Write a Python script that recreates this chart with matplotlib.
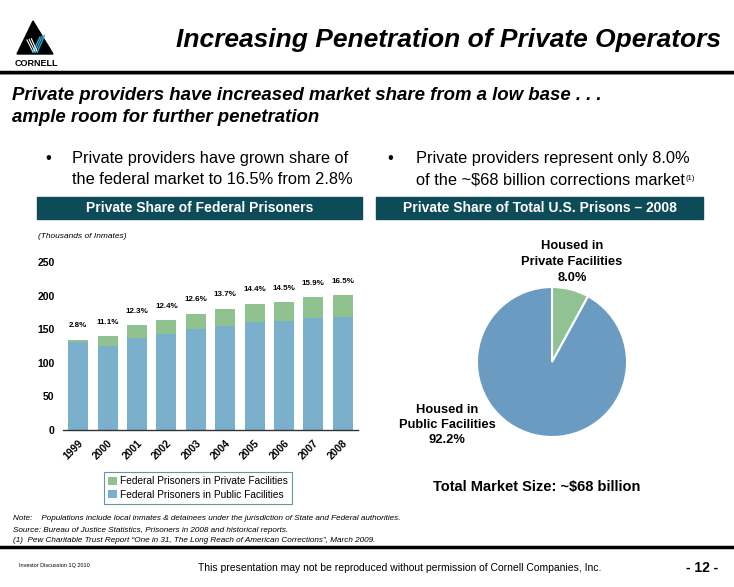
import matplotlib.pyplot as plt
from matplotlib.patches import Rectangle, Polygon
from matplotlib.lines import Line2D

# bar chart data (thousands of inmates)
years = ["1999", "2000", "2001", "2002", "2003", "2004", "2005", "2006", "2007", "2008"]
public_fac = [130.5, 124.5, 137.0, 143.5, 151.0, 155.5, 160.5, 162.5, 166.0, 167.5]
private_fac = [3.8, 15.2, 19.0, 20.0, 21.6, 24.8, 27.0, 27.8, 31.5, 33.0]
share_labels = ["2.8%", "11.1%", "12.3%", "12.4%", "12.6%", "13.7%", "14.4%", "14.5%", "15.9%", "16.5%"]

# pie data (% of total market)
pie_labels = ["Housed in\nPrivate Facilities\n8.0%", "Housed in\nPublic Facilities\n92.2%"]
pie_values = [8.0, 92.2]

W, H = 734, 587
plt.rcParams['font.family'] = ['Liberation Sans', 'DejaVu Sans']
fig = plt.figure(figsize=(W / 100, H / 100), dpi=100)


def fx(x):
    return x / W


def fy(y):
    return 1 - y / H


def txt(x, y, s, **kw):
    return fig.text(fx(x), fy(y), s, **kw)


# header / footer rules
fig.add_artist(Line2D([fx(0), fx(W)], [fy(71.5), fy(71.5)], color='black', lw=2.5))
fig.add_artist(Line2D([fx(0), fx(W)], [fy(74), fy(74)], color='#777777', lw=0.6))
fig.add_artist(Line2D([fx(0), fx(W)], [fy(547), fy(547)], color='black', lw=2.5))

# logo
fig.add_artist(Polygon([(fx(33), fy(21)), (fx(17), fy(54)), (fx(53), fy(54))],
                       closed=True, color='black', transform=fig.transFigure))
for i in range(3):
    d = i * 2.2
    fig.add_artist(Line2D([fx(27 + d), fx(33 + d)], [fy(40 - d * 0.3), fy(52)],
                          color='white', lw=0.8))
    fig.add_artist(Line2D([fx(33 + d), fx(40 + d)], [fy(52), fy(37 - d * 0.3)],
                          color='#2aa7c9', lw=1.0))
txt(36, 64, "CORNELL", fontsize=6.5, fontweight='bold', ha='center', va='center')

# title and subtitle
txt(721, 47, "Increasing Penetration of Private Operators", fontsize=19,
    fontweight='bold', fontstyle='italic', ha='right', va='baseline')
txt(12, 96, "Private providers have increased market share from a low base . . .",
    fontsize=13.4, fontweight='bold', fontstyle='italic', ha='left', va='center')
txt(12, 118, "ample room for further penetration",
    fontsize=13.4, fontweight='bold', fontstyle='italic', ha='left', va='center')

# bullets
txt(48, 158, "•", fontsize=12, ha='center', va='center')
txt(72, 158, "Private providers have grown share of", fontsize=11.8, va='center')
txt(72, 180, "the federal market to 16.5% from 2.8%", fontsize=11.8, va='center')
txt(390, 158, "•", fontsize=12, ha='center', va='center')
txt(416, 158, "Private providers represent only 8.0%", fontsize=11.8, va='center')
t2 = txt(416, 180, "of the ~$68 billion corrections market", fontsize=11.8, va='center')
# superscript right after the last bullet line
fig.canvas.draw()
bb = t2.get_window_extent()
txt(bb.x1 + 1, 178, "(1)", fontsize=5.5, va='center', ha='left')

# section bands
band = '#0d4b58'
for x0, x1, label in [(37, 362, "Private Share of Federal Prisoners"),
                      (376, 703, "Private Share of Total U.S. Prisons \u2013 2008")]:
    fig.add_artist(Rectangle((fx(x0), fy(219)), fx(x1 - x0), (219 - 197) / H,
                             color=band, transform=fig.transFigure))
    txt((x0 + x1) / 2, 208, label, fontsize=10, fontweight='bold', color='white',
        ha='center', va='center')

txt(38, 236, "(Thousands of Inmates)", fontsize=6, fontstyle='italic', va='center')

# stacked bar chart
ax = fig.add_axes([fx(63), fy(430), (358 - 63) / W, (430 - 262) / H])
xs = range(len(years))
c_pub, c_priv = '#7bb0cc', '#8fc28f'
ax.bar(xs, public_fac, width=0.68, color=c_pub, label="Federal Prisoners in Public Facilities")
ax.bar(xs, private_fac, width=0.68, bottom=public_fac, color=c_priv,
       label="Federal Prisoners in Private Facilities")
for i, lab in enumerate(share_labels):
    ax.text(i, public_fac[i] + private_fac[i] + 21, lab, fontsize=5.8, fontweight='bold',
            ha='center', va='center')
ax.set_xlim(-0.52, 9.52)
ax.set_ylim(0, 250)
ax.set_yticks([0, 50, 100, 150, 200, 250])
ax.set_xticks(list(xs))
ax.set_xticklabels(years, rotation=45, ha='right', rotation_mode='anchor')
for lab in ax.get_xticklabels() + ax.get_yticklabels():
    lab.set_fontweight('bold')
    lab.set_fontsize(7.5)
ax.tick_params(length=0, pad=6)
for s in ['top', 'right', 'left']:
    ax.spines[s].set_visible(False)
ax.spines['bottom'].set_color('#333333')
ax.spines['bottom'].set_linewidth(1.0)

h, l = ax.get_legend_handles_labels()
leg = fig.legend(h[::-1], l[::-1], loc='center', bbox_to_anchor=(fx(198), fy(488)),
                 fontsize=7.3, frameon=True, fancybox=False, handlelength=0.8,
                 handleheight=0.8, handletextpad=0.3, borderpad=0.45, labelspacing=0.35)
leg.get_frame().set_edgecolor('#3f7f7a')
leg.get_frame().set_linewidth(0.8)

# pie chart
r = 75
pax = fig.add_axes([fx(552 - r), fy(362 + r), 2 * r / W, 2 * r / H])
pax.pie(pie_values, colors=['#90c294', '#6b9bc0'], startangle=90, counterclock=False,
        wedgeprops=dict(edgecolor='white', linewidth=1.5))
pax.set_xlim(-1, 1)
pax.set_ylim(-1, 1)
pax.set_aspect('equal')

txt(572, 262, pie_labels[0], fontsize=9.3, fontweight='bold', ha='center', va='center',
    linespacing=1.45)
txt(447, 425, pie_labels[1], fontsize=9.3, fontweight='bold', ha='center', va='center',
    linespacing=1.35)
txt(537, 487, "Total Market Size: ~$68 billion", fontsize=10.5, fontweight='bold',
    ha='center', va='center')

# footnotes
txt(13, 519, "Note:    Populations include local inmates & detainees under the jurisdiction of State and Federal authorities.",
    fontsize=5.9, fontstyle='italic', va='center')
txt(13, 530, "Source: Bureau of Justice Statistics, Prisoners in 2008 and historical reports.",
    fontsize=5.9, fontstyle='italic', va='center')
txt(13, 541, "(1)  Pew Charitable Trust Report \u201cOne in 31, The Long Reach of American Corrections\u201d, March 2009.",
    fontsize=5.9, fontstyle='italic', va='center')
txt(19, 566, "Investor Discussion 1Q 2010", fontsize=4, va='center')
txt(400, 568, "This presentation may not be reproduced without permission of Cornell Companies, Inc.",
    fontsize=7.5, ha='center', va='center')
txt(718, 568, "- 12 -", fontsize=10, fontweight='bold', ha='right', va='center')

fig.savefig("out.png", dpi=100)
